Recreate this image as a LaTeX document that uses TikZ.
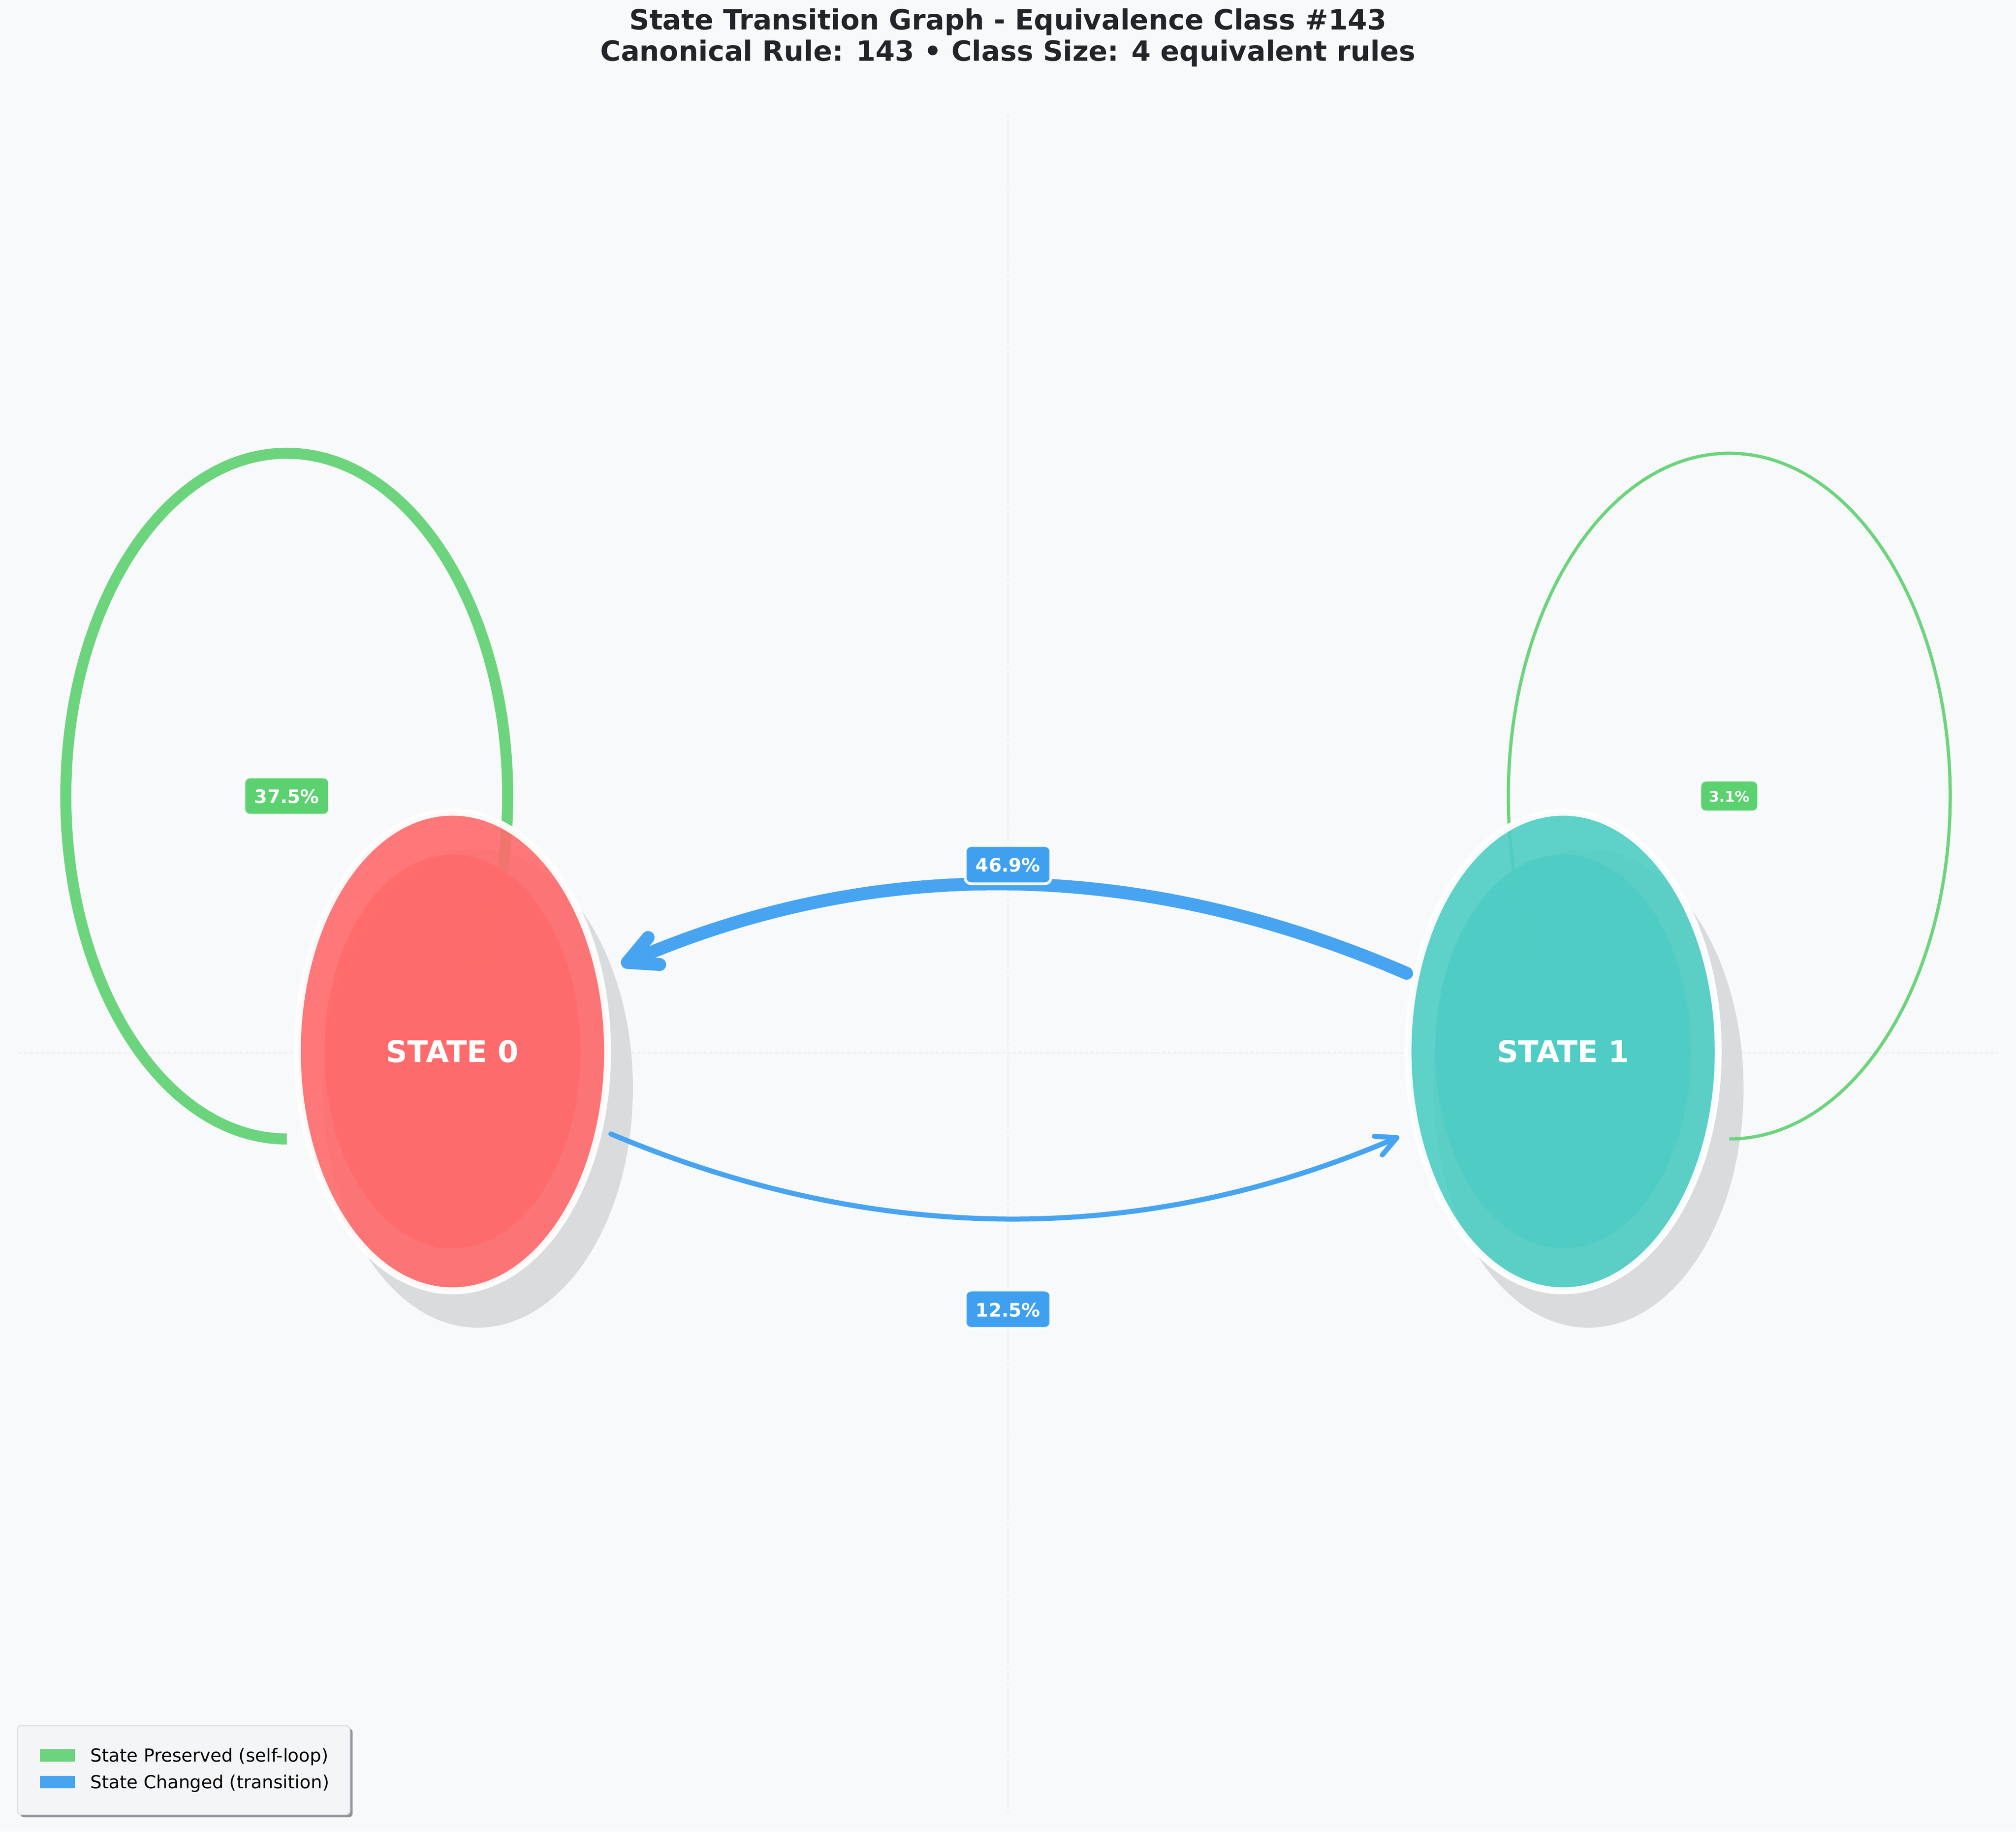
\documentclass[tikz,border=0pt]{standalone}
\usepackage{fontspec}
\setmainfont{DejaVu Sans}
\usetikzlibrary{shapes.geometric,arrows.meta,calc}
\definecolor{bgc}{HTML}{F8F9FA}
\definecolor{titlec}{HTML}{212529}
\definecolor{redc}{HTML}{FF6B6B}
\definecolor{tealc}{HTML}{4ECDC4}
\definecolor{shadowc}{HTML}{DADBDC}
\definecolor{loopc}{HTML}{6DD47E}
\definecolor{lblgreen}{HTML}{5CD170}
\definecolor{bluec}{HTML}{47A4F1}
\definecolor{lblblue}{HTML}{40A0F0}
\definecolor{guidec}{HTML}{E6E9EC}
\definecolor{legfill}{HTML}{F4F5F7}
\definecolor{legdraw}{HTML}{DEE2E6}
\definecolor{legshadow}{HTML}{909399}
\pgfdeclarelayer{bottom}
\pgfdeclarelayer{background}
\pgfsetlayers{bottom,background,main}
\tikzset{
  statenode/.style={ellipse, minimum width=6.74cm, minimum height=10.4cm, inner sep=0pt,
    draw=white, draw opacity=0.95, line width=1.5mm, fill opacity=0.9},
  stateinner/.style={ellipse, minimum width=5.56cm, minimum height=8.56cm, inner sep=0pt,
    fill opacity=0.9, text opacity=1, text=white, font=\fontsize{18.5}{20}\selectfont\bfseries},
  shadowell/.style={ellipse, minimum width=6.74cm, minimum height=10.4cm, inner sep=0pt, fill=shadowc},
  lbl/.style={rounded corners=1.3mm, draw=white, draw opacity=0.9, line width=0.6mm, text=white,
    font=\fontsize{11.5}{12}\selectfont\bfseries, inner xsep=2.3mm, inner ysep=2.55mm,
    text height=3.2mm, text depth=0pt},
  lblsmall/.style={lbl, font=\fontsize{9}{10}\selectfont\bfseries, inner xsep=2mm, inner ysep=2.2mm,
    text height=2.5mm},
  loopthick/.style={draw=loopc, line width=2.4mm},
  loopthin/.style={draw=loopc, line width=0.7mm},
  transthick/.style={draw=bluec, line width=2.8mm, line cap=round,
    -{Straight Barb[length=6.3mm, width=6.4mm, round]}},
  transthin/.style={draw=bluec, line width=1.1mm, line cap=round,
    -{Straight Barb[length=4.4mm, width=4.4mm, round]}},
  guide/.style={draw=guidec, line width=0.2mm, dash pattern=on 0.8mm off 0.4mm},
  titletext/.style={anchor=base, text=titlec, font=\fontsize{17.2}{20}\selectfont\bfseries},
  legtext/.style={anchor=base west, inner sep=0pt, text=black, font=\fontsize{11.1}{12}\selectfont}
}
\begin{document}
\begin{tikzpicture}[x=1cm,y=1cm]
\begin{pgfonlayer}{bottom}
  \fill[bgc] (0,0) rectangle (43.8,39.8);
\end{pgfonlayer}
\useasboundingbox (0,0) rectangle (43.8,39.8);

% faint guide lines
\begin{pgfonlayer}{bottom}
  \draw[guide] (21.90,0.4) -- (21.90,37.35);
  \draw[guide] (0.4,16.92) -- (43.4,16.92);
\end{pgfonlayer}

% title
\node[titletext] (title1) at (21.90,39.15) {State Transition Graph - Equivalence Class \#143};
\node[titletext] (title2) at (21.90,38.47) {Canonical Rule: 143 • Class Size: 4 equivalent rules};

% states
\node[statenode, fill=redc] (s0) at (9.83,16.95) {};
\node[stateinner, fill=redc] (s0in) at (s0.center) {STATE 0};
\node[statenode, fill=tealc] (s1) at (33.96,16.95) {};
\node[stateinner, fill=tealc] (s1in) at (s1.center) {STATE 1};

% shadows and self-loops behind the states
\begin{pgfonlayer}{background}
  \node[shadowell] (sh0) at ($(s0.center)+(0.55,-0.80)$) {};
  \node[shadowell] (sh1) at ($(s1.center)+(0.55,-0.80)$) {};
  \draw[loopthick] ($(s0.center)+(-3.60,-1.90)$) arc[start angle=-90, end angle=-390, x radius=4.80, y radius=7.45];
  \draw[loopthin] ($(s1.center)+(3.61,-1.90)$) arc[start angle=-90, end angle=210, x radius=4.80, y radius=7.45];
\end{pgfonlayer}

% transitions
\draw[transthick] ($(s1.center)+(-3.40,1.70)$) .. controls (24.75,21.16) and (19.05,21.22) .. ($(s0.center)+(3.67,1.88)$);
\draw[transthin] ($(s0.center)+(3.44,-1.79)$) .. controls (19.09,12.71) and (24.82,12.71) .. ($(s1.center)+(-3.56,-1.85)$);

% labels
\node[lbl, fill=lblgreen] (l00) at (6.23,22.50) {37.5\%};
\node[lblsmall, fill=lblgreen] (l11) at (37.57,22.50) {3.1\%};
\node[lbl, fill=lblblue] (l10) at (21.90,21.01) {46.9\%};
\node[lbl, fill=lblblue] (l01) at (21.90,11.35) {12.5\%};

% legend
\fill[legshadow, rounded corners=0.8mm] (0.44,0.31) rectangle (7.66,2.24);
\draw[fill=legfill, draw=legdraw, line width=0.25mm, rounded corners=0.8mm] (0.38,0.37) rectangle (7.60,2.30);
\fill[loopc] (0.87,1.52) rectangle (1.63,1.79);
\fill[bluec] (0.87,0.94) rectangle (1.63,1.21);
\node[legtext] (leg1) at (1.96,1.52) {State Preserved (self-loop)};
\node[legtext] (leg2) at (1.96,0.94) {State Changed (transition)};
\end{tikzpicture}
\end{document}
